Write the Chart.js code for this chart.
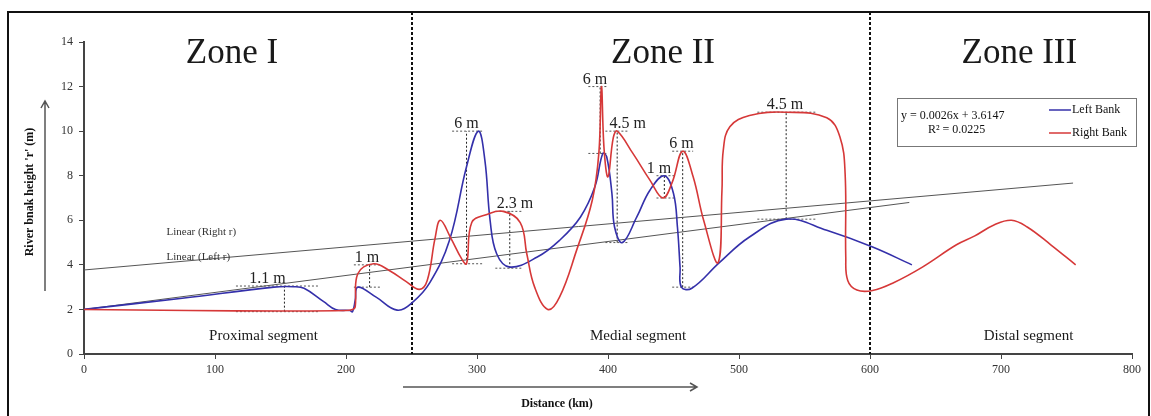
<!DOCTYPE html>
<html>
<head>
<meta charset="utf-8">
<script src="https://cdn.jsdelivr.net/npm/chart.js@4"></script>
<style>
  body { margin: 0; background: #fff; }
  canvas { display: block; }
</style>
</head>
<body>
<canvas id="bankChart" width="1151" height="416"></canvas>
<script>
// distance (km) / height (m) pairs
const leftX = [0, 75, 145, 160, 168, 183, 192, 203, 205, 207, 209, 223, 239, 251, 264, 279, 292, 301, 306, 310, 315, 325, 346, 363, 379, 390, 396, 399, 403, 405, 411, 422, 432, 443, 450, 453, 455, 456, 464, 485, 508, 536, 567, 602, 632];
const leftY = [2, 2.5, 3.0, 3.02, 2.95, 2.35, 2.0, 1.95, 1.9, 2.4, 3.0, 2.55, 1.97, 2.33, 3.2, 5.1, 8.4, 10.0, 8.7, 6.0, 4.5, 3.9, 4.35, 5.1, 6.15, 7.5, 9.0, 8.85, 7.2, 5.7, 5.0, 6.15, 7.35, 8.0, 7.2, 5.7, 3.9, 3.0, 2.95, 4.1, 5.25, 6.05, 5.55, 4.8, 4.0];

const rightX = [0, 80, 150, 200, 205, 207, 209, 221, 233, 246, 256, 262, 268, 272, 280, 288, 292, 296, 307, 320, 333, 338, 344, 354, 363, 376, 388, 393, 395, 397, 400, 404, 407, 419, 432, 442, 449, 457, 465, 473, 484, 487, 488, 493, 508, 536, 567, 577, 581, 581.5, 583, 590, 602, 618, 640, 666, 680, 695, 708, 720, 738, 757];
const rightY = [2, 1.95, 1.93, 1.95, 2.0, 2.1, 3.6, 4.05, 3.75, 3.25, 2.9, 3.3, 5.2, 6.0, 5.2, 4.3, 4.05, 5.9, 6.25, 6.4, 5.9, 4.5, 3.0, 2.0, 2.55, 4.65, 6.9, 9.0, 12.0, 9.2, 7.95, 9.7, 10.0, 9.0, 7.8, 7.0, 7.7, 9.1, 7.95, 6.0, 4.1, 7.35, 9.15, 10.2, 10.7, 10.85, 10.6, 9.75, 8.1, 4.35, 3.3, 2.87, 2.85, 3.2, 3.9, 4.9, 5.3, 5.8, 6.0, 5.7, 4.9, 4.0];

// trend lines [x0, y0, x1, y1]
const trendRight = [0, 3.77, 755, 7.67];
const trendLeft = [0, 2.0, 630, 6.8];

// bank height annotations: x, low, high, left, right, label, label x
const annX     = [153, 218, 292, 325, 394, 407, 443, 457, 536];
const annLow   = [1.9, 3.0, 4.05, 3.85, 9.0, 5.0, 7.0, 3.0, 6.05];
const annHigh  = [3.05, 4.0, 10.0, 6.4, 12.0, 10.0, 8.0, 9.1, 10.85];
const annFrom  = [116, 206, 281, 314, 385, 398, 437, 449, 514];
const annTo    = [179, 226, 304, 334, 400, 415, 451, 465, 559];
const annText  = ['1.1 m', '1 m', '6 m', '2.3 m', '6 m', '4.5 m', '1 m', '6 m', '4.5 m'];
const annTextX = [140, 216, 292, 329, 390, 415, 439, 456, 535];

const zoneBreaks = [250, 600];
const zoneNames = ['Zone I', 'Zone II', 'Zone III'];
const zoneNameX = [113, 442, 714];
const segNames = ['Proximal segment', 'Medial segment', 'Distal segment'];
const segNameX = [137, 423, 721];

const xTicks = [0, 100, 200, 300, 400, 500, 600, 700, 800];
const yTicks = [0, 2, 4, 6, 8, 10, 12, 14];

const pairs = (xs, ys) => xs.map((x, i) => ({ x: x, y: ys[i] }));
const serif = '"Liberation Serif", "DejaVu Serif", serif';

const decor = {
  id: 'decor',
  beforeDatasetsDraw(chart) {
    const ctx = chart.ctx, xs = chart.scales.x, ys = chart.scales.y;
    const area = chart.chartArea;
    ctx.save();
    // zone dividers
    ctx.strokeStyle = '#111';
    ctx.lineWidth = 2;
    ctx.setLineDash([3, 2]);
    zoneBreaks.forEach(b => {
      const px = Math.round(xs.getPixelForValue(b));
      ctx.beginPath();
      ctx.moveTo(px, 12);
      ctx.lineTo(px, area.bottom);
      ctx.stroke();
    });
    // height annotations
    ctx.lineWidth = 1;
    ctx.setLineDash([2, 2]);
    annX.forEach((x, i) => {
      const px = xs.getPixelForValue(x);
      const lo = ys.getPixelForValue(annLow[i]), hi = ys.getPixelForValue(annHigh[i]);
      const a = xs.getPixelForValue(annFrom[i]), b = xs.getPixelForValue(annTo[i]);
      ctx.strokeStyle = '#222';
      ctx.beginPath();
      ctx.moveTo(px, lo); ctx.lineTo(px, hi); ctx.stroke();
      ctx.strokeStyle = '#555';
      ctx.beginPath();
      ctx.moveTo(a, hi); ctx.lineTo(b, hi);
      ctx.moveTo(a, lo); ctx.lineTo(b, lo);
      ctx.stroke();
      ctx.setLineDash([]);
      ctx.fillStyle = '#222';
      ctx.font = '16px ' + serif;
      ctx.textAlign = 'center';
      ctx.textBaseline = 'alphabetic';
      ctx.fillText(annText[i], xs.getPixelForValue(annTextX[i]), hi - 3);
      ctx.setLineDash([2, 2]);
    });
    ctx.restore();
  },
  afterDraw(chart) {
    const ctx = chart.ctx, xs = chart.scales.x, ys = chart.scales.y;
    const area = chart.chartArea;
    ctx.save();
    ctx.fillStyle = '#1a1a1a';
    ctx.textAlign = 'center';
    ctx.textBaseline = 'alphabetic';
    ctx.font = '35px ' + serif;
    zoneNames.forEach((t, i) => ctx.fillText(t, xs.getPixelForValue(zoneNameX[i]), 63));
    ctx.font = '15px ' + serif;
    segNames.forEach((t, i) => ctx.fillText(t, xs.getPixelForValue(segNameX[i]), 340));

    // trend labels
    ctx.font = '11px ' + serif;
    ctx.fillStyle = '#333';
    ctx.textAlign = 'left';
    ctx.fillText('Linear (Right r)', xs.getPixelForValue(63), ys.getPixelForValue(5.35));
    ctx.fillText('Linear (Left r)', xs.getPixelForValue(63), ys.getPixelForValue(4.2));

    // axis titles with arrows
    ctx.fillStyle = '#111';
    ctx.font = 'bold 12px ' + serif;
    ctx.textAlign = 'center';
    ctx.fillText('Distance (km)', 557, 407);
    ctx.save();
    ctx.translate(33, 192);
    ctx.rotate(-Math.PI / 2);
    ctx.fillText("River bnak height 'r' (m)", 0, 0);
    ctx.restore();
    ctx.strokeStyle = '#555';
    ctx.lineWidth = 1.5;
    ctx.beginPath();
    ctx.moveTo(403, 387); ctx.lineTo(697, 387);
    ctx.moveTo(690, 383); ctx.lineTo(697, 387); ctx.lineTo(690, 391);
    ctx.moveTo(45, 291); ctx.lineTo(45, 101);
    ctx.moveTo(41, 108); ctx.lineTo(45, 101); ctx.lineTo(49, 108);
    ctx.stroke();

    // legend box
    ctx.strokeStyle = '#777';
    ctx.lineWidth = 1;
    ctx.strokeRect(897.5, 98.5, 239, 48);
    ctx.fillStyle = '#111';
    ctx.font = '12px ' + serif;
    ctx.textAlign = 'left';
    ctx.fillText('y = 0.0026x + 3.6147', 901, 119);
    ctx.fillText('R\u00b2 = 0.0225', 928, 133);
    [0, 1].forEach(i => {
      const ds = chart.data.datasets[i];
      const y = 110 + i * 23;
      ctx.strokeStyle = ds.borderColor;
      ctx.lineWidth = 1.5;
      ctx.beginPath();
      ctx.moveTo(1049, y); ctx.lineTo(1071, y);
      ctx.stroke();
      ctx.fillStyle = '#111';
      ctx.textBaseline = 'middle';
      ctx.fillText(ds.label, 1072, y);
    });

    // outer frame
    ctx.strokeStyle = '#111';
    ctx.lineWidth = 2;
    ctx.strokeRect(8, 12, 1141, 420);
    ctx.restore();
  }
};

new Chart(document.getElementById('bankChart').getContext('2d'), {
  type: 'line',
  data: {
    datasets: [{
      label: 'Left Bank',
      data: pairs(leftX, leftY),
      borderColor: 'rgb(52, 48, 170)',
      borderWidth: 1.6,
      tension: 0.4,
      pointRadius: 0,
      order: 2
    }, {
      label: 'Right Bank',
      data: pairs(rightX, rightY),
      borderColor: 'rgb(214, 56, 56)',
      borderWidth: 1.6,
      tension: 0.4,
      pointRadius: 0,
      order: 1
    }, {
      label: 'Linear (Right r)',
      data: [{ x: trendRight[0], y: trendRight[1] }, { x: trendRight[2], y: trendRight[3] }],
      borderColor: '#555',
      borderWidth: 1,
      pointRadius: 0,
      order: 3
    }, {
      label: 'Linear (Left r)',
      data: [{ x: trendLeft[0], y: trendLeft[1] }, { x: trendLeft[2], y: trendLeft[3] }],
      borderColor: '#555',
      borderWidth: 1,
      pointRadius: 0,
      order: 3
    }]
  },
  options: {
    responsive: false,
    animation: false,
    layout: { padding: { top: 42, right: 19, left: 0, bottom: 0 } },
    plugins: {
      legend: { display: false },
      tooltip: { enabled: false }
    },
    scales: {
      x: {
        type: 'linear',
        min: 0, max: 800,
        afterFit: s => { s.height = 62; },
        afterBuildTicks: s => { s.ticks = xTicks.map(v => ({ value: v })); },
        border: { color: '#444', width: 2 },
        grid: { drawOnChartArea: false, tickLength: 5, color: '#444' },
        ticks: { color: '#333', font: { family: serif, size: 12 }, padding: 4, maxRotation: 0 }
      },
      y: {
        min: 0, max: 14,
        afterFit: s => { s.width = 84; },
        afterBuildTicks: s => { s.ticks = yTicks.map(v => ({ value: v })); },
        border: { color: '#444', width: 2 },
        grid: { drawOnChartArea: false, tickLength: 5, color: '#444' },
        ticks: { color: '#333', font: { family: serif, size: 12 }, padding: 6 }
      }
    }
  },
  plugins: [decor]
});
</script>
</body>
</html>
